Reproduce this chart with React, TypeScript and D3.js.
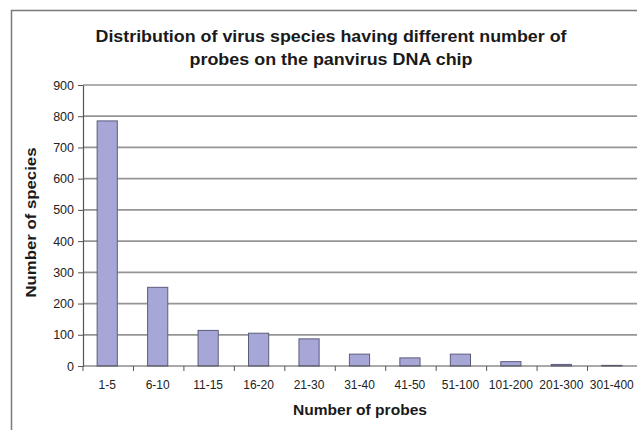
import React, { useEffect, useRef } from 'react';
import * as d3 from 'd3';

const categories = ['1-5', '6-10', '11-15', '16-20', '21-30', '31-40', '41-50', '51-100', '101-200', '201-300', '301-400'];
const species = [785, 252, 114, 105, 87, 38, 26, 38, 14, 5, 2];
const yTicks = [0, 100, 200, 300, 400, 500, 600, 700, 800, 900];
const titleLines = ['Distribution of virus species having different number of', 'probes on the panvirus DNA chip'];

const App: React.FC = () => {
  const svgRef = useRef<SVGSVGElement>(null);

  useEffect(() => {
    if (!svgRef.current) return;
    const svg = d3.select(svgRef.current);
    svg.selectAll('*').remove();

    const width = 637;
    const height = 430;
    const margin = { top: 85, right: -1, bottom: 64, left: 83 };
    const font = '"Liberation Sans", Arial, sans-serif';

    // outer frame
    svg
      .append('rect')
      .attr('x', 11.5)
      .attr('y', 10.5)
      .attr('width', 700)
      .attr('height', 500)
      .attr('fill', 'white')
      .attr('stroke', '#7a7a7a')
      .attr('stroke-width', 1.5);

    const x = d3
      .scaleBand()
      .domain(categories)
      .range([margin.left, width - margin.right])
      .paddingInner(0.6)
      .paddingOuter(0.3);

    const y = d3
      .scaleLinear()
      .domain([0, 900])
      .range([height - margin.bottom, margin.top]);

    // grid
    svg
      .append('g')
      .selectAll('line')
      .data(yTicks.filter((d) => d > 0))
      .enter()
      .append('line')
      .attr('x1', margin.left)
      .attr('x2', width)
      .attr('y1', (d) => y(d))
      .attr('y2', (d) => y(d))
      .attr('stroke', '#959595')
      .attr('stroke-width', 1.7);

    // bars
    svg
      .append('g')
      .selectAll('rect')
      .data(species)
      .enter()
      .append('rect')
      .attr('x', (_, i) => (x(categories[i]) || 0) - 1)
      .attr('y', (d) => y(d))
      .attr('width', x.bandwidth())
      .attr('height', (d) => y(0) - y(d))
      .attr('fill', '#a7a7d7')
      .attr('stroke', '#5c5c7c')
      .attr('stroke-width', 1);

    // y axis
    const yAxis = svg
      .append('g')
      .attr('transform', `translate(${margin.left},0)`)
      .call(d3.axisLeft(y).tickValues(yTicks).tickSize(5).tickSizeOuter(0));
    yAxis.select('.domain').attr('stroke', '#555').attr('stroke-width', 1.2);
    yAxis.selectAll('.tick line').attr('stroke', '#555');
    yAxis
      .selectAll('.tick text')
      .attr('font-family', font)
      .attr('font-size', 12.5)
      .attr('fill', '#222')
      .attr('x', -9);

    // x axis
    const xAxis = svg.append('g').attr('transform', `translate(0,${y(0)})`);
    xAxis
      .append('line')
      .attr('x1', margin.left)
      .attr('x2', width)
      .attr('stroke', '#555')
      .attr('stroke-width', 1.2);
    xAxis
      .selectAll('.tk')
      .data(categories)
      .enter()
      .append('line')
      .attr('class', 'tk')
      .attr('x1', (d) => (x(d) || 0) - x.bandwidth() * 0.75)
      .attr('x2', (d) => (x(d) || 0) - x.bandwidth() * 0.75)
      .attr('y1', 0)
      .attr('y2', 5)
      .attr('stroke', '#555');
    xAxis
      .selectAll('text')
      .data(categories)
      .enter()
      .append('text')
      .attr('x', (d) => (x(d) || 0) + x.bandwidth() / 2 - 1)
      .attr('y', 23)
      .attr('text-anchor', 'middle')
      .attr('font-family', font)
      .attr('font-size', 12)
      .attr('fill', '#222')
      .text((d) => d);

    // titles (the original is slightly stretched horizontally)
    const titleWidths = [471, 283];
    svg
      .append('g')
      .selectAll('text')
      .data(titleLines)
      .enter()
      .append('text')
      .attr('x', 331)
      .attr('y', (_, i) => 42 + i * 23)
      .attr('text-anchor', 'middle')
      .attr('font-family', font)
      .attr('font-weight', 'bold')
      .attr('font-size', 16)
      .attr('fill', '#1a1a1a')
      .attr('textLength', (_, i) => titleWidths[i])
      .attr('lengthAdjust', 'spacingAndGlyphs')
      .text((d) => d);

    svg
      .append('text')
      .attr('x', 360)
      .attr('y', 415)
      .attr('text-anchor', 'middle')
      .attr('font-family', font)
      .attr('font-weight', 'bold')
      .attr('font-size', 14)
      .attr('fill', '#1a1a1a')
      .attr('textLength', 134)
      .attr('lengthAdjust', 'spacingAndGlyphs')
      .text('Number of probes');

    svg
      .append('text')
      .attr('transform', `translate(36,${(y(0) + y(900)) / 2 - 3}) rotate(-90)`)
      .attr('text-anchor', 'middle')
      .attr('font-family', font)
      .attr('font-weight', 'bold')
      .attr('font-size', 14)
      .attr('fill', '#1a1a1a')
      .attr('textLength', 150)
      .attr('lengthAdjust', 'spacingAndGlyphs')
      .text('Number of species');
  }, []);

  return (
    <div style={{ position: 'absolute', left: 0, top: 0 }}>
      <svg ref={svgRef} width="637" height="430" style={{ display: 'block' }}></svg>
    </div>
  );
};

export default App;
